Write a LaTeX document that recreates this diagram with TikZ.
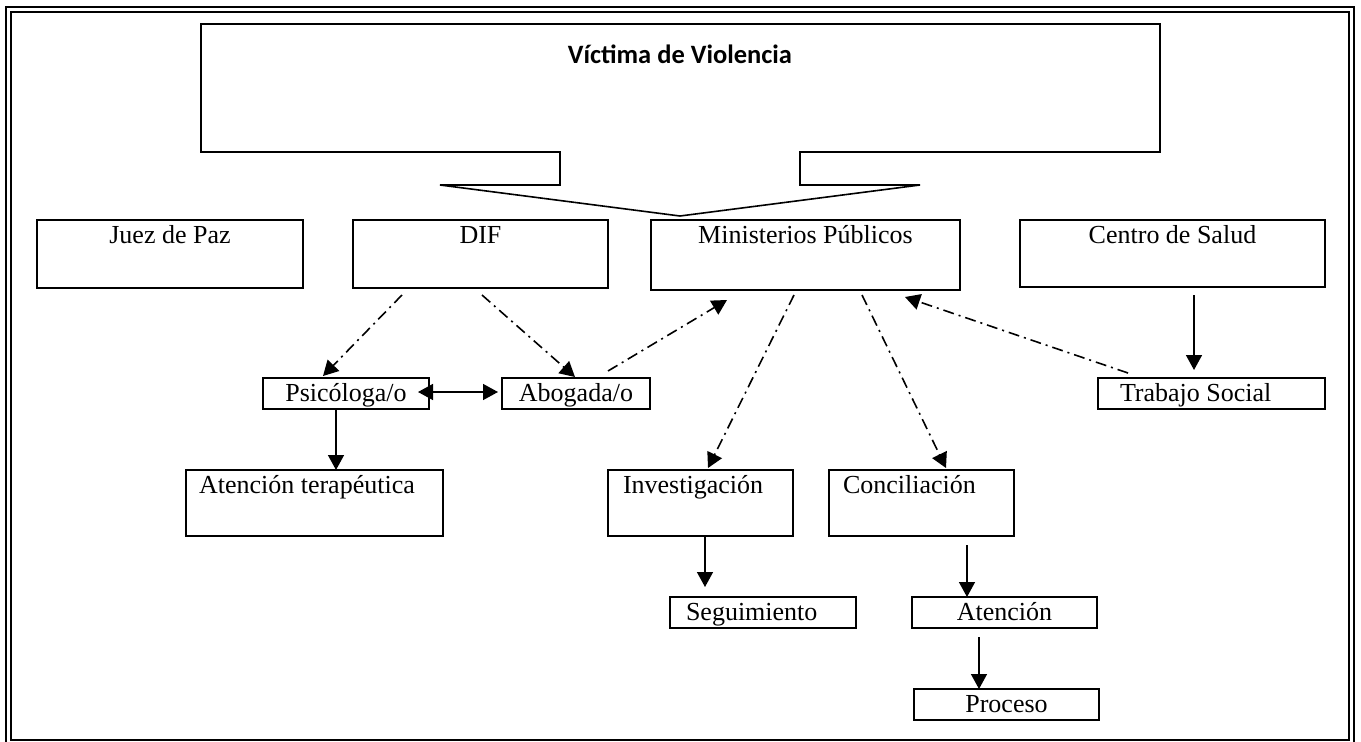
\documentclass[tikz,border=0pt]{standalone}
\usepackage{fontspec}
\setmainfont{Liberation Serif}
\newfontfamily\titlefont{Carlito}
\usetikzlibrary{calc,arrows.meta}
\newcommand\bt[4]{\parbox[t][#2][t]{#1}{#3\rule{0pt}{23.5pt}#4}}
\begin{document}
\begin{tikzpicture}[x=1pt,y=-1pt,
  bx/.style={draw,line width=1.6pt,inner sep=0pt,outer sep=0pt,anchor=north west,font=\fontsize{26}{28}\selectfont},
  tip/.style={-{Triangle[length=15pt,width=16pt]}},
  solidarrow/.style={tip,line width=1.5pt},
  dd/.style={tip,line width=1.6pt,dash pattern=on 11pt off 5pt on 2pt off 5pt}]
\useasboundingbox (0,0) rectangle (1361,742);
\fill[white] (0,0) rectangle (1361,742);
% frame
\draw[line width=2pt] (6,7) rectangle (1354,747);
\draw[line width=2pt] (11,12) rectangle (1349,740);
% callout
\draw[line width=1.6pt,line join=miter] (201,24) -- (1160,24) -- (1160,152) -- (800,152) -- (800,185) -- (920,185)
  -- (680,216) -- (440,185) -- (560,185) -- (560,152) -- (201,152) -- cycle;
\node[font=\titlefont\bfseries\fontsize{26.5}{30}\selectfont,anchor=base] (title) at (680,63) {Víctima de Violencia};
% boxes
\node[bx] (juez) at (37,220) {\bt{266pt}{68pt}{\centering}{Juez de Paz}};
\node[bx] (dif) at (353,220) {\bt{255pt}{68pt}{\centering}{DIF}};
\node[bx] (mp) at (651,220) {\bt{309pt}{70pt}{\centering}{Ministerios Públicos}};
\node[bx] (cs) at (1020,220) {\bt{305pt}{67pt}{\centering}{Centro de Salud}};
\node[bx] (psi) at (263,378) {\bt{166pt}{31pt}{\centering}{Psicóloga/o}};
\node[bx] (abo) at (502,378) {\bt{148pt}{31pt}{\centering}{Abogada/o}};
\node[bx] (ts) at (1098,378) {\bt{227pt}{31pt}{\hspace*{22pt}}{Trabajo Social}};
\node[bx] (at) at (186,470) {\bt{257pt}{66pt}{\hspace*{13pt}}{Atención terapéutica}};
\node[bx] (inv) at (608,470) {\bt{185pt}{66pt}{\hspace*{15pt}}{Investigación}};
\node[bx] (con) at (829,470) {\bt{185pt}{66pt}{\hspace*{14pt}}{Conciliación}};
\node[bx] (seg) at (670,597) {\bt{186pt}{31pt}{\hspace*{16pt}}{Seguimiento}};
\node[bx] (ate) at (912,597) {\bt{185pt}{31pt}{\centering}{Atención}};
\node[bx] (pro) at (914,689) {\bt{185pt}{31pt}{\centering}{Proceso}};
% solid arrows
\draw[solidarrow] ($(psi.south west)+(73,0)$) -- ($(at.north west)+(150,0)$);
\draw[solidarrow] ($(inv.south west)+(97,0)$) -- ($(seg.north west)+(35,-10)$);
\draw[solidarrow] ($(con.south west)+(138,9)$) -- ($(ate.north west)+(55,0)$);
\draw[solidarrow] ($(ate.south west)+(67,9)$) -- ($(pro.north west)+(65,0)$);
\draw[solidarrow] ($(cs.south west)+(174,8)$) -- ($(ts.north west)+(96,-8)$);
\draw[{Triangle[length=15pt,width=16pt]}-{Triangle[length=15pt,width=16pt]},line width=1.5pt]
  ($(psi.north east)+(-11,14)$) -- ($(abo.north west)+(-4,14)$);
% dash-dot arrows
\draw[dd] ($(dif.south west)+(49,7)$) -- ($(psi.north west)+(60,-2)$);
\draw[dd] ($(dif.south west)+(129,7)$) -- ($(abo.north west)+(73,-1)$);
\draw[dd] ($(abo.north east)+(-42,-7)$) -- ($(mp.south west)+(76,10)$);
\draw[dd] ($(mp.south west)+(143,5)$) -- ($(inv.north west)+(100,-2)$);
\draw[dd] ($(mp.south west)+(211,5)$) -- ($(con.north west)+(117,-2)$);
\draw[dd] ($(ts.north west)+(30,-5)$) -- ($(mp.south west)+(254,7)$);
\end{tikzpicture}
\end{document}
